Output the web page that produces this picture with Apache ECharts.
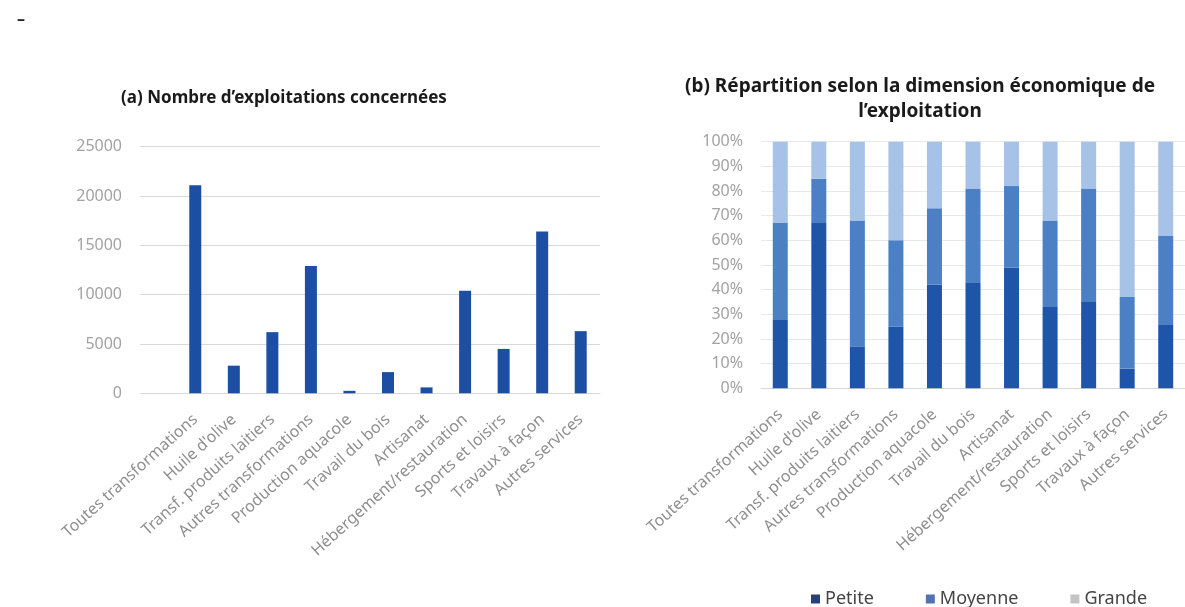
<!DOCTYPE html>
<html>
<head>
<meta charset="utf-8">
<script src="https://cdn.jsdelivr.net/npm/echarts@6/dist/echarts.min.js"></script>
<style>
html,body{margin:0;padding:0;background:#fff;}
#c{width:1185px;height:607px;}
</style>
</head>
<body>
<div id="c"></div>
<script>
const categories = ["Toutes transformations","Huile d'olive","Transf. produits laitiers","Autres transformations","Production aquacole","Travail du bois","Artisanat","Hébergement/restauration","Sports et loisirs","Travaux à façon","Autres services"];
const countValues = [21100, 2800, 6200, 12900, 250, 2150, 600, 10400, 4500, 16400, 6300];
const petite  = [28, 67, 17, 25, 42, 43, 49, 33, 35, 8, 26];
const moyenne = [39, 18, 51, 35, 31, 38, 33, 35, 46, 29, 36];
const grande  = [33, 15, 32, 40, 27, 19, 18, 32, 19, 63, 38];
const countTicks = [0, 5000, 10000, 15000, 20000, 25000];

const FONT = "'Noto Sans', 'Open Sans', sans-serif";
const chart = echarts.init(document.getElementById('c'));
const xLabel = {rotate:42, color:'#8f8f8f', fontSize:16, fontFamily:FONT, margin:24, interval:0};

chart.setOption({
  animation:false,
  backgroundColor:'#fff',
  title:[
    {text:'–', left:12, top:6, textStyle:{fontSize:16, fontWeight:'bold', color:'#222', fontFamily:FONT}},
    {text:"(a) Nombre d’exploitations concernées", left:279, top:85, textAlign:'center',
     textStyle:{fontSize:17, fontWeight:'bold', color:'#1a1a1a', fontFamily:FONT}},
    {text:"(b) Répartition selon la dimension économique de\nl’exploitation", left:915, top:69, textAlign:'center',
     textStyle:{fontSize:19, fontWeight:'bold', color:'#1a1a1a', fontFamily:FONT, lineHeight:25}}
  ],
  legend:{
    left:806, top:585, itemWidth:9, itemHeight:9, itemGap:52, icon:'rect',
    textStyle:{fontSize:18, color:'#444', fontFamily:FONT},
    data:[
      {name:'Petite', itemStyle:{color:'#2b3f7c'}},
      {name:'Moyenne', itemStyle:{color:'#5272b4'}},
      {name:'Grande', itemStyle:{color:'#c4c4c4'}}
    ]
  },
  grid:[
    {left:140, right:585, top:146.7, bottom:213.7},
    {left:176, right:585, top:146.7, bottom:213.7},
    {left:761, right:-8, top:141.7, bottom:218.7}
  ],
  xAxis:[
    {gridIndex:0, type:'value', show:false, min:0, max:1},
    {gridIndex:1, type:'category', data:categories, axisTick:{show:false},
     axisLine:{lineStyle:{color:'#d9d9d9'}}, axisLabel:xLabel},
    {gridIndex:2, type:'category', data:categories, axisTick:{show:false},
     axisLine:{lineStyle:{color:'#d9d9d9'}}, axisLabel:xLabel}
  ],
  yAxis:[
    {gridIndex:0, type:'value', min:countTicks[0], max:countTicks[countTicks.length-1], interval:5000,
     axisLine:{show:false}, axisTick:{show:false},
     axisLabel:{color:'#a3a3a3', fontSize:16, fontFamily:FONT, margin:18, formatter:v => String(v)},
     splitLine:{lineStyle:{color:'#d9d9d9'}}},
    {gridIndex:1, type:'value', min:0, max:25000, interval:5000, show:false, splitLine:{show:false}},
    {gridIndex:2, type:'value', min:0, max:100, interval:10, axisLine:{show:false}, axisTick:{show:false},
     axisLabel:{color:'#a3a3a3', fontSize:16, fontFamily:FONT, margin:18, formatter:'{value}%'},
     splitLine:{lineStyle:{color:'#e8e8e8'}}}
  ],
  series:[
    {type:'bar', xAxisIndex:1, yAxisIndex:1, data:countValues, barWidth:12, itemStyle:{color:'#1c4fa3'}},
    {name:'Petite', type:'bar', stack:'s', xAxisIndex:2, yAxisIndex:2, data:petite, barWidth:15, itemStyle:{color:'#1f55a8'}},
    {name:'Moyenne', type:'bar', stack:'s', xAxisIndex:2, yAxisIndex:2, data:moyenne, barWidth:15, itemStyle:{color:'#4b80c4'}},
    {name:'Grande', type:'bar', stack:'s', xAxisIndex:2, yAxisIndex:2, data:grande, barWidth:15, itemStyle:{color:'#a6c2e6'}}
  ]
});
</script>
</body>
</html>
